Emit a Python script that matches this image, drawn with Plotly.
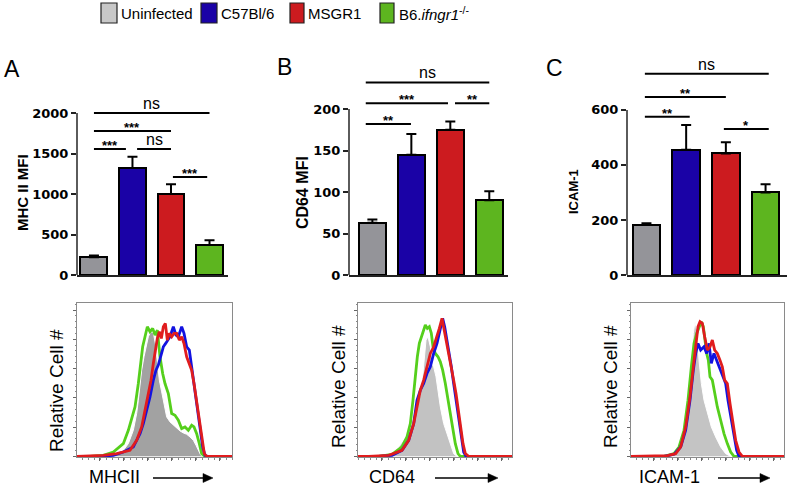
import plotly.graph_objects as go

W, H = 790, 488

# ---------------- data ----------------
groups = ["Uninfected", "C57Bl/6", "MSGR1", "B6.ifngr1-/-"]
bar_colors = ["#949499", "#1a02a6", "#cc1b1f", "#5db51f"]
legend_colors = ["#c8c8c8", "#1a02a6", "#cc1b1f", "#5db51f"]
line_colors = {"green": "#55cf1c", "blue": "#1212e0", "red": "#e01c1e"}

mhc_mean = [220, 1320, 1000, 370]
mhc_top = [240, 1460, 1120, 430]
cd64_mean = [63, 145, 175, 90]
cd64_top = [67, 170, 185, 101]
icam_mean = [183, 455, 442, 300]
icam_top = [188, 545, 482, 330]

# significance brackets: x0, x1 (group index), y level, label
sigA_x0 = [0, 0, 0, 1.12, 2.05]
sigA_x1 = [3, 2, 0.83, 2.0, 2.94]
sigA_y = [2000, 1778, 1556, 1556, 1210]
sigA_lab = ["ns", "***", "***", "ns", "***"]

sigB_x0 = [-0.17, -0.17, 2.12, -0.17]
sigB_x1 = [3.0, 1.94, 3.0, 0.99]
sigB_y = [232, 207, 207, 182]
sigB_lab = ["ns", "***", "**", "**"]

sigC_x0 = [-0.04, -0.04, -0.04, 1.95]
sigC_x1 = [3.08, 2.0, 1.09, 3.08]
sigC_y = [731, 647, 575, 531]
sigC_lab = ["ns", "**", "**", "*"]

# histograms (fluorescence channel, relative count)
hA_gray_x = [100,130,160,175,190,200,205,210,215,222,228,235,242,250,256,262,268,275,283,290,300,310,320,330,340,350,360,370,378,385,392,400]
hA_gray_y = [0,2,18,38,78,128,168,218,258,298,328,358,373,370,338,278,228,193,148,118,103,93,83,76,70,66,58,48,33,16,4,0]
hA_green_x = [21,60,100,130,160,175,185,195,205,212,218,225,232,240,248,255,262,266,270,278,285,295,305,315,325,335,345,355,365,372,380,388,395,405,486]
hA_green_y = [0,0,3,13,38,78,113,148,218,288,328,358,388,373,383,363,378,338,298,248,218,188,128,123,108,83,88,78,93,88,68,38,8,0,0]
hA_blue_x = [21,90,130,160,190,210,220,230,240,250,258,265,272,280,287,293,300,310,318,325,335,342,350,358,365,372,378,385,392,398,405,412,486]
hA_blue_y = [0,0,3,13,28,68,98,138,178,228,258,273,298,328,338,348,358,388,363,358,388,368,328,318,268,208,168,118,68,28,3,0,0]
hA_red_x = [21,100,140,180,200,215,225,235,243,250,257,262,268,274,280,286,292,298,305,312,320,328,335,342,350,358,365,372,378,385,392,398,403,410,486]
hA_red_y = [0,3,8,18,48,88,138,188,228,278,318,353,373,353,388,398,348,368,358,368,368,348,358,338,298,278,258,218,178,128,78,38,8,0,0]

hB_gray_x = [80,100,120,140,160,175,185,195,205,212,218,222,228,235,240,245,252,258,265,275,285,295,305,315,480]
hB_gray_y = [0,2,8,28,58,78,108,148,188,238,298,348,358,328,278,268,238,198,148,98,68,38,8,0,0]
hB_green_x = [18,80,120,150,165,175,183,190,196,202,208,214,220,226,232,238,243,250,258,265,272,280,288,295,302,310,318,325,480]
hB_green_y = [0,0,6,28,58,98,168,248,298,338,358,378,393,383,388,368,328,308,298,283,258,218,168,118,78,38,8,0,0]
hB_blue_x = [18,80,120,150,170,185,195,205,215,225,235,245,255,265,272,278,285,290,298,305,312,320,328,335,342,480]
hB_blue_y = [0,0,3,18,48,98,168,198,218,248,268,308,338,378,413,388,348,318,268,218,168,108,48,13,0,0]
hB_red_x = [18,50,110,150,170,185,195,205,215,225,235,245,255,262,270,277,283,290,298,305,312,318,325,333,340,350,480]
hB_red_y = [0,0,3,18,48,98,148,198,228,268,308,328,358,383,413,378,348,308,268,228,188,148,88,38,8,0,0]

hC_gray_x = [100,150,170,185,195,202,208,213,220,225,232,240,250,262,275,290,305,320,480]
hC_gray_y = [0,2,28,88,168,268,368,403,368,288,218,168,128,88,58,28,8,0,0]
hC_green_x = [21,120,150,165,180,192,202,210,218,225,232,238,243,248,253,258,265,272,280,290,300,310,320,330,480]
hC_green_y = [0,0,8,28,78,168,268,338,368,388,403,388,338,308,288,238,228,188,148,108,68,38,13,0,0]
hC_blue_x = [21,120,150,170,185,198,208,215,222,230,240,248,255,262,270,278,285,295,305,312,320,330,338,345,480]
hC_blue_y = [0,0,6,28,78,168,258,308,338,318,328,308,338,278,308,288,268,248,218,168,118,58,18,0,0]
hC_red_x = [21,40,130,155,170,185,198,208,215,222,228,235,242,250,258,265,272,280,288,295,302,310,318,325,335,345,355,480]
hC_red_y = [0,0,2,8,28,88,178,268,338,388,403,398,358,318,328,348,318,308,288,268,228,218,158,108,48,13,0,0]

# ---------------- helpers ----------------
def px(x):
    return x / W

def py(y):
    return 1 - y / H

fig = go.Figure()

bar_panels = [
    dict(mean=mhc_mean, top=mhc_top, xd=(77, 228), xr=[-0.44, 3.48], ymax=2531, tick=[0, 500, 1000, 1500, 2000],
         x0=sigA_x0, x1=sigA_x1, sy=sigA_y, lab=sigA_lab, title="MHC II MFI", tpos=(23, 193), tsize=15,
         letter="A", lpos=(12, 69)),
    dict(mean=cd64_mean, top=cd64_top, xd=(349, 508), xr=[-0.6, 3.48], ymax=247, tick=[0, 50, 100, 150, 200],
         x0=sigB_x0, x1=sigB_x1, sy=sigB_y, lab=sigB_lab, title="CD64 MFI", tpos=(303, 193), tsize=16,
         letter="B", lpos=(284, 67)),
    dict(mean=icam_mean, top=icam_top, xd=(627, 787), xr=[-0.49, 3.54], ymax=745, tick=[0, 200, 400, 600],
         x0=sigC_x0, x1=sigC_x1, sy=sigC_y, lab=sigC_lab, title="ICAM-1", tpos=(573, 192), tsize=13,
         letter="C", lpos=(554, 68)),
]

shapes = []
annotations = []
layout = {}

tickfont = dict(family="DejaVu Sans", size=13, color="black", weight="bold")

for i, p in enumerate(bar_panels):
    n = i + 1
    xa = "x" if n == 1 else f"x{n}"
    ya = "y" if n == 1 else f"y{n}"
    fig.add_trace(go.Bar(
        x=[0, 1, 2, 3], y=p["mean"], xaxis=xa, yaxis=ya, width=0.7,
        marker=dict(color=bar_colors, line=dict(color="black", width=2)),
        error_y=dict(type="data", symmetric=False,
                     array=[t - m for t, m in zip(p["top"], p["mean"])],
                     arrayminus=[0, 0, 0, 0], color="black", thickness=2, width=5),
        showlegend=False, hoverinfo="skip"))
    layout[f"xaxis{'' if n == 1 else n}"] = dict(
        domain=[px(p["xd"][0]), px(p["xd"][1])], range=p["xr"], anchor=ya, automargin=False,
        showline=True, linecolor="#222", linewidth=2, showticklabels=False, ticks="",
        showgrid=False, zeroline=False, fixedrange=True)
    layout[f"yaxis{'' if n == 1 else n}"] = dict(
        domain=[py(275), py(70)], range=[0, p["ymax"]], anchor=xa, automargin=False,
        tickvals=p["tick"], ticks="outside", ticklen=5, tickwidth=1.5, tickcolor="#222",
        tickfont=tickfont, showline=False, showgrid=False, zeroline=False, fixedrange=True)
    shapes.append(dict(type="line", xref=f"{xa} domain", yref=ya, x0=0, x1=0, y0=0, y1=p["tick"][-1],
                       line=dict(color="#333", width=1.6)))
    for x0, x1, yy, lab in zip(p["x0"], p["x1"], p["sy"], p["lab"]):
        shapes.append(dict(type="line", xref=xa, yref=ya, x0=x0, x1=x1, y0=yy, y1=yy,
                           line=dict(color="black", width=2)))
        star = lab != "ns"
        annotations.append(dict(
            x=(x0 + x1) / 2, y=yy, xref=xa, yref=ya, text=lab, showarrow=False,
            xanchor="center", yanchor="bottom", yshift=-6 if star else -1,
            font=dict(family="Liberation Sans, Arial", size=13 if star else 16, color="black",
                      weight="bold" if star else "normal")))
    annotations.append(dict(x=px(p["tpos"][0]), y=py(p["tpos"][1]), xref="paper", yref="paper",
                            xanchor="center", yanchor="middle",
                            text=p["title"], textangle=-90, showarrow=False,
                            font=dict(family="Liberation Sans, Arial", size=p["tsize"], color="black",
                                      weight="bold")))
    annotations.append(dict(x=px(p["lpos"][0]), y=py(p["lpos"][1]), xref="paper", yref="paper",
                            xanchor="center", yanchor="middle",
                            text=p["letter"], showarrow=False,
                            font=dict(family="Liberation Sans, Arial", size=23, color="black")))

hist_panels = [
    dict(data=[(hA_gray_x, hA_gray_y), (hA_green_x, hA_green_y), (hA_blue_x, hA_blue_y), (hA_red_x, hA_red_y)],
         xd=(77, 232), xr=[21, 486], fill="#a2a2a2", label="MHCII", lab_x=88, arrow=(153, 213), ylab=(56, 391)),
    dict(data=[(hB_gray_x, hB_gray_y), (hB_green_x, hB_green_y), (hB_blue_x, hB_blue_y), (hB_red_x, hB_red_y)],
         xd=(358, 512), xr=[18, 480], fill="#c2c2c2", label="CD64", lab_x=368, arrow=(435, 498), ylab=(338, 387)),
    dict(data=[(hC_gray_x, hC_gray_y), (hC_green_x, hC_green_y), (hC_blue_x, hC_blue_y), (hC_red_x, hC_red_y)],
         xd=(631, 784), xr=[21, 480], fill="#c4c4c4", label="ICAM-1", lab_x=638, arrow=(718, 770), ylab=(610, 387)),
]

for i, p in enumerate(hist_panels):
    n = i + 4
    xa, ya = f"x{n}", f"y{n}"
    (gx, gy), (grx, gry), (bx, by), (rx, ry) = p["data"]
    fig.add_trace(go.Scatter(x=gx, y=gy, xaxis=xa, yaxis=ya, mode="lines", fill="tozeroy",
                             fillcolor=p["fill"], line=dict(color="white", width=1),
                             showlegend=False, hoverinfo="skip"))
    for (xs, ys), c in [((grx, gry), line_colors["green"]), ((bx, by), line_colors["blue"]),
                        ((rx, ry), line_colors["red"])]:
        fig.add_trace(go.Scatter(x=xs, y=ys, xaxis=xa, yaxis=ya, mode="lines",
                                 line=dict(color=c, width=2.8), showlegend=False, hoverinfo="skip"))
    layout[f"xaxis{n}"] = dict(
        domain=[px(p["xd"][0]), px(p["xd"][1])], range=p["xr"], anchor=ya, automargin=False,
        showline=True, mirror=True, linecolor="#8a8a8a", linewidth=1, showticklabels=False,
        ticks="outside", ticklen=3, tickcolor="#666", tick0=15, dtick=72,
        minor=dict(ticks="outside", ticklen=1.5, dtick=18, tickcolor="#888"),
        showgrid=False, zeroline=False, fixedrange=True)
    layout[f"yaxis{n}"] = dict(
        domain=[py(457), py(303)], range=[-2, 459], anchor=xa, automargin=False,
        showline=True, mirror=True, linecolor="#8a8a8a", linewidth=1, showticklabels=False,
        ticks="outside", ticklen=3, tickcolor="#666", tick0=0, dtick=87.6,
        minor=dict(ticks="outside", ticklen=1.5, dtick=17.52, tickcolor="#888"),
        showgrid=False, zeroline=False, fixedrange=True)
    annotations.append(dict(x=px(p["ylab"][0]), y=py(p["ylab"][1]), xref="paper", yref="paper",
                            xanchor="center", yanchor="middle",
                            text="Relative Cell #", textangle=-90, showarrow=False,
                            font=dict(family="Liberation Sans, Arial", size=19, color="black")))
    annotations.append(dict(x=px(p["lab_x"]), y=py(488), xref="paper", yref="paper",
                            xanchor="left", yanchor="bottom", borderpad=0,
                            text=p["label"], showarrow=False,
                            font=dict(family="Liberation Sans, Arial", size=18, color="black")))
    a0, a1 = p["arrow"]
    shapes.append(dict(type="line", xref="paper", yref="paper", x0=px(a0), x1=px(a1 - 6),
                       y0=py(478), y1=py(478), line=dict(color="black", width=1.6)))
    shapes.append(dict(type="path", xref="paper", yref="paper",
                       path=f"M {px(a1)},{py(478)} L {px(a1 - 10)},{py(473.5)} L {px(a1 - 10)},{py(482.5)} Z",
                       fillcolor="black", line=dict(color="black", width=0.5)))

# manual legend
leg_sq = [(101, 117), (201, 217), (290, 304), (380, 394)]
leg_txt_x = [119, 219, 306, 397]
leg_labels = ["Uninfected", "C57Bl/6", "MSGR1", "B6.<i>ifngr1</i><sup>-/-</sup>"]
for (s0, s1), tx, lab, col in zip(leg_sq, leg_txt_x, leg_labels, legend_colors):
    shapes.append(dict(type="rect", xref="paper", yref="paper", x0=px(s0), x1=px(s1), y0=py(23), y1=py(3),
                       fillcolor=col, line=dict(color="#222", width=1.2)))
    annotations.append(dict(x=px(tx), y=py(13), xref="paper", yref="paper",
                            xanchor="left", yanchor="middle",
                            text=lab, showarrow=False,
                            font=dict(family="Liberation Sans, Arial", size=15, color="black")))

fig.update_layout(**layout)
fig.update_layout(width=W, height=H, margin=dict(l=0, r=0, t=0, b=0, pad=0, autoexpand=False),
                  paper_bgcolor="white", plot_bgcolor="white",
                  shapes=shapes, annotations=annotations, showlegend=False, bargap=0)

css_fix = (
    "document.documentElement.style.overflow='hidden';"
    "document.body.style.margin='0px';"
    "document.body.style.overflow='hidden';"
)
fig.write_html("out.html", config={"displayModeBar": False}, post_script=[css_fix])
